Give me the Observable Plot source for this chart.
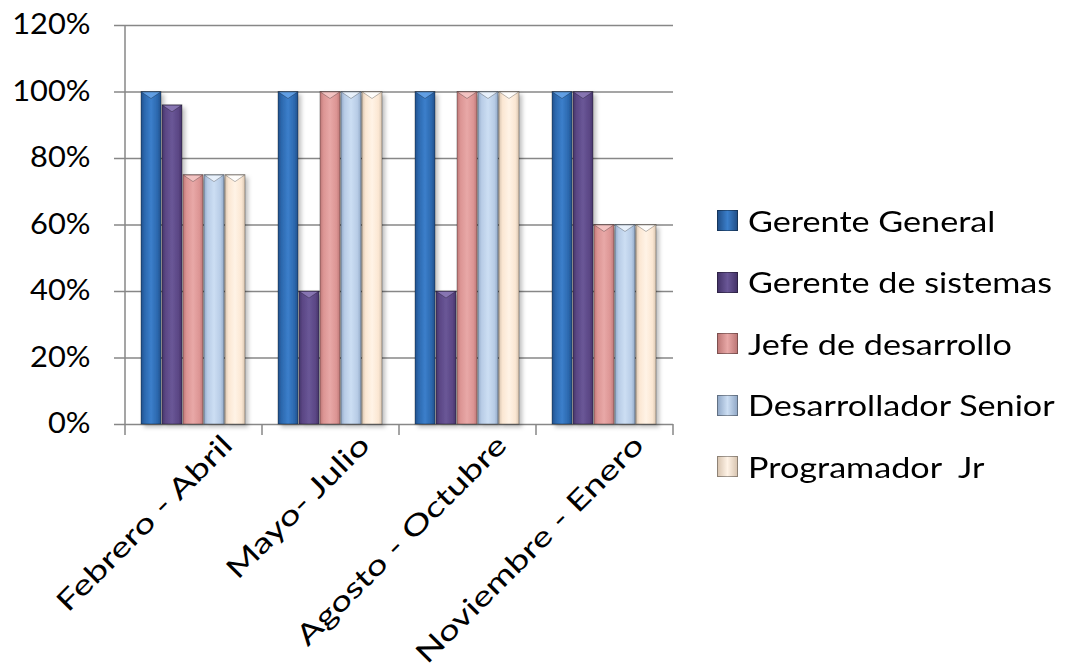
<!DOCTYPE html>
<html><head><meta charset="utf-8">
<script src="https://cdn.jsdelivr.net/npm/d3@7"></script>
<script src="https://cdn.jsdelivr.net/npm/@observablehq/plot@0.6"></script>
<style>
body{margin:0;background:#fff;font-family:Lato,sans-serif;}
#wrap{position:relative;width:1068px;height:671px;overflow:hidden;}
#legend{position:absolute;left:717px;top:190px;}
.item{display:flex;align-items:center;height:61.5px;font-size:28px;color:#000;white-space:pre;}
.item span{display:inline-block;transform:scaleX(1.22);transform-origin:left center;}
.sw{width:21px;height:21px;margin-right:10px;box-sizing:border-box;border:1px solid rgba(0,0,0,0.35);}
</style></head><body><div id="wrap"><div id="chart"></div><div id="legend"></div></div>
<script>
const periods = ["Febrero - Abril", "Mayo- Julio", "Agosto - Octubre", "Noviembre - Enero"];
const roles = ["Gerente General", "Gerente de sistemas", "Jefe de desarrollo", "Desarrollador Senior", "Programador  Jr"];
const gerenteGeneral = [100, 100, 100, 100];
const gerenteSistemas = [96, 40, 40, 100];
const jefeDesarrollo = [75, 100, 100, 60];
const desarrolladorSenior = [75, 100, 100, 60];
const programadorJr = [75, 100, 100, 60];
const yTicks = [0, 20, 40, 60, 80, 100, 120];
const baseColors = ["#2C68AE", "#5B4785", "#DC9594", "#B8CCE6", "#FBE7D3"];
const lightColors = ["#3B7FCB", "#6A5797", "#E8A8A7", "#CCDEF3", "#FFF3E6"];
const darkColors = ["#21508A", "#45346A", "#BE7877", "#93AAC8", "#D9C6B2"];
const bevelColors = ["#69A6EA", "#8D7BB8", "#F6C9C8", "#EEF5FD", "#FFFFFF"];

const series = [gerenteGeneral, gerenteSistemas, jefeDesarrollo, desarrolladorSenior, programadorJr];
const rows = periods.flatMap((p, i) => roles.map((r, j) => ({period: p, role: r, value: series[j][i]})));

const plot = Plot.plot({
  width: 1068, height: 671,
  marginLeft: 125, marginRight: 395, marginTop: 25, marginBottom: 247,
  style: {fontFamily: "Lato, sans-serif", fontSize: "28px", color: "#000", background: "#fff", overflow: "visible"},
  fx: {domain: periods, padding: 0, label: null},
  x: {domain: roles, paddingInner: 0.04, paddingOuter: 0.72, axis: null},
  y: {domain: [0, 120], label: null},
  color: {domain: roles, range: roles.map((_, i) => `url(#grad${i})`)},
  marks: [
    Plot.gridY(yTicks, {stroke: "#878787", strokeOpacity: 1, strokeWidth: 1.5}),
    Plot.barY(rows, {fx: "period", x: "role", y: "value", fill: "role", stroke: "rgba(0,0,0,0.4)", strokeWidth: 0.8}),
    Plot.axisY(yTicks, {tickSize: 11, tickPadding: 24, tickFormat: d => d + "%", stroke: "#878787", strokeWidth: 1.5, label: null}),
    Plot.axisFx({anchor: "bottom", tickRotate: -45, tickSize: 0, tickPadding: 16, dx: 34, label: null})
  ]
});

const svg = d3.select(plot);
const defs = svg.insert("defs", ":first-child");
baseColors.forEach((c, i) => {
  const g = defs.append("linearGradient").attr("id", `grad${i}`).attr("x1", "0").attr("x2", "1").attr("y1", "0").attr("y2", "0");
  g.append("stop").attr("offset", "0%").attr("stop-color", darkColors[i]);
  g.append("stop").attr("offset", "18%").attr("stop-color", baseColors[i]);
  g.append("stop").attr("offset", "50%").attr("stop-color", lightColors[i]);
  g.append("stop").attr("offset", "82%").attr("stop-color", baseColors[i]);
  g.append("stop").attr("offset", "100%").attr("stop-color", darkColors[i]);
});
const f = defs.append("filter").attr("id", "shadow").attr("x", "-20%").attr("y", "-5%").attr("width", "160%").attr("height", "115%");
f.append("feDropShadow").attr("dx", 3).attr("dy", 3).attr("stdDeviation", 2).attr("flood-color", "#000").attr("flood-opacity", 0.25);

// bevel triangles on top of each bar and soft shadow
svg.selectAll("rect").each(function() {
  const r = d3.select(this);
  const fill = r.attr("fill") || "";
  const m = fill.match(/grad(\d)/);
  if (!m) return;
  const i = +m[1];
  const x = +r.attr("x"), y = +r.attr("y"), w = +r.attr("width");
  r.attr("filter", "url(#shadow)");
  d3.select(this.parentNode).append("polygon")
    .attr("points", `${x + 0.5},${y + 0.5} ${x + w - 0.5},${y + 0.5} ${x + w / 2},${y + 7}`)
    .attr("fill", bevelColors[i]).attr("opacity", 0.85);
});

// widen axis texts to mimic the original wide typeface
svg.selectAll('g[aria-label="y-axis tick label"] text').attr("transform", function() {
  return (this.getAttribute("transform") || "") + " scale(1.1,1)";
});
svg.selectAll('g[aria-label="fx-axis tick label"] text').attr("transform", function() {
  return (this.getAttribute("transform") || "") + " scale(1.33,1)";
});

const fx = plot.scale("fx");
const ys = plot.scale("y");
const y0 = ys.apply(0), yTop = ys.apply(120);
const left = fx.apply(periods[0]);
const bw = fx.bandwidth;
const deco = svg.append("g").attr("stroke", "#878787").attr("stroke-width", 1.5);
deco.append("line").attr("x1", left).attr("x2", left).attr("y1", yTop).attr("y2", y0);
const edges = periods.map(p => fx.apply(p)).concat([fx.apply(periods[periods.length - 1]) + bw]);
edges.forEach(e => deco.append("line").attr("x1", e).attr("x2", e).attr("y1", y0).attr("y2", y0 + 11));

document.getElementById("chart").appendChild(plot);

const legend = d3.select("#legend");
roles.forEach((r, i) => {
  const it = legend.append("div").attr("class", "item");
  it.append("div").attr("class", "sw")
    .style("background", `linear-gradient(90deg, ${darkColors[i]}, ${lightColors[i]} 50%, ${darkColors[i]})`);
  it.append("span").text(r);
});
</script>
</body></html>
